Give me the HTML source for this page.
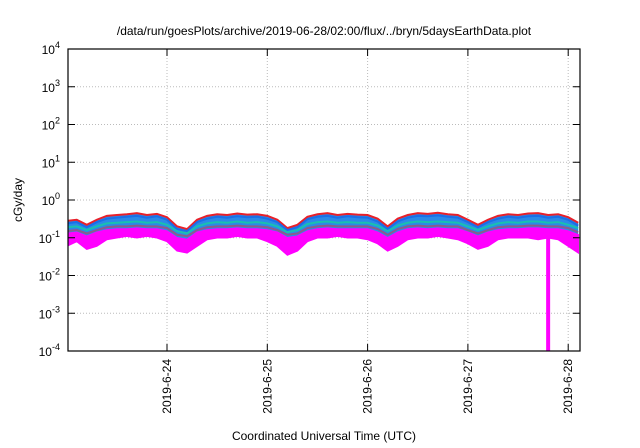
<!DOCTYPE html>
<html><head><meta charset="utf-8"><style>
body{margin:0;background:#fff;}
svg{display:block;font-family:"Liberation Sans",sans-serif;}
</style></head><body>
<svg id="c" width="640" height="448" xmlns="http://www.w3.org/2000/svg">
<text x="324" y="35" font-size="12" text-anchor="middle">/data/run/goesPlots/archive/2019-06-28/02:00/flux/../bryn/5daysEarthData.plot</text>
<text x="324" y="440" font-size="12" text-anchor="middle">Coordinated Universal Time (UTC)</text>
<text transform="translate(22,200) rotate(-90)" font-size="12" text-anchor="middle">cGy/day</text>
<g id="grid"></g><g id="series"></g><g id="axes"></g>
</svg>
<script>
const dayLabels=["2019-6-24","2019-6-25","2019-6-26","2019-6-27","2019-6-28"];
const dayTicks=[1,2,3,4,5];
const yExps=[-4,-3,-2,-1,0,1,2,3,4];
const times=[0,0.1,0.2,0.3,0.4,0.5,0.6,0.7,0.8,0.9,1,1.1,1.2,1.3,1.4,1.5,1.6,1.7,1.8,1.9,2,2.1,2.2,2.3,2.4,2.5,2.6,2.7,2.8,2.9,3,3.1,3.2,3.3,3.4,3.5,3.6,3.7,3.8,3.9,4,4.1,4.2,4.3,4.4,4.5,4.6,4.7,4.8,4.9,5,5.1];
const red=[0.28,0.3,0.22,0.3,0.38,0.4,0.42,0.45,0.4,0.43,0.35,0.2,0.17,0.3,0.38,0.42,0.4,0.44,0.41,0.42,0.38,0.3,0.18,0.22,0.36,0.42,0.45,0.4,0.43,0.41,0.4,0.32,0.2,0.32,0.4,0.45,0.43,0.46,0.42,0.4,0.3,0.22,0.3,0.38,0.42,0.4,0.44,0.45,0.4,0.42,0.35,0.25];
const blue=[0.24,0.26,0.19,0.26,0.32,0.34,0.36,0.38,0.34,0.37,0.3,0.17,0.15,0.26,0.32,0.36,0.34,0.37,0.35,0.36,0.32,0.26,0.16,0.19,0.31,0.36,0.38,0.34,0.37,0.35,0.34,0.27,0.17,0.27,0.34,0.38,0.37,0.39,0.36,0.34,0.26,0.19,0.26,0.32,0.36,0.34,0.37,0.38,0.34,0.36,0.3,0.21];
const teal=[0.19,0.2,0.16,0.2,0.24,0.25,0.26,0.27,0.25,0.26,0.22,0.15,0.13,0.2,0.24,0.26,0.25,0.27,0.25,0.26,0.24,0.2,0.14,0.16,0.23,0.26,0.27,0.25,0.26,0.25,0.25,0.21,0.15,0.21,0.25,0.27,0.26,0.27,0.26,0.25,0.2,0.16,0.2,0.24,0.26,0.25,0.27,0.27,0.25,0.26,0.22,0.18];
const gray=[0.15,0.16,0.13,0.16,0.19,0.2,0.2,0.21,0.2,0.2,0.18,0.12,0.11,0.16,0.19,0.2,0.2,0.21,0.2,0.2,0.19,0.16,0.12,0.13,0.18,0.2,0.21,0.2,0.2,0.2,0.2,0.17,0.12,0.17,0.2,0.21,0.2,0.21,0.2,0.2,0.16,0.13,0.16,0.19,0.2,0.2,0.21,0.21,0.2,0.2,0.18,0.14];
const magHigh=[0.13,0.14,0.11,0.14,0.16,0.17,0.17,0.18,0.17,0.17,0.15,0.1,0.09,0.14,0.16,0.17,0.17,0.18,0.17,0.17,0.16,0.14,0.1,0.11,0.15,0.17,0.18,0.17,0.17,0.17,0.17,0.14,0.1,0.14,0.17,0.18,0.17,0.18,0.17,0.17,0.14,0.11,0.14,0.16,0.17,0.17,0.18,0.18,0.17,0.17,0.15,0.12];
const magLow=[0.06,0.08,0.05,0.06,0.09,0.1,0.11,0.1,0.11,0.1,0.08,0.045,0.04,0.06,0.09,0.1,0.1,0.11,0.1,0.1,0.08,0.06,0.035,0.045,0.08,0.1,0.1,0.11,0.1,0.1,0.09,0.07,0.045,0.06,0.09,0.1,0.1,0.11,0.1,0.09,0.07,0.05,0.06,0.09,0.1,0.1,0.1,0.09,0.1,0.09,0.06,0.04];
const spikeTimes=[4.8];
const spikeValues=[0.0001];
const L=68,R=580,T=49,B=351;
const x=t=>66.7+t*100.3;
const y=v=>B-(Math.log10(v)+4)*(B-T)/8;
const NS="http://www.w3.org/2000/svg";
function mk(tag,parent,attrs){const e=document.createElementNS(NS,tag);for(const k in attrs)e.setAttribute(k,attrs[k]);parent.appendChild(e);return e;}
const grid=document.getElementById('grid'),axes=document.getElementById('axes'),ser=document.getElementById('series');
const clip=mk('clipPath',document.getElementById('c'),{id:'pc'});mk('rect',clip,{x:L,y:T,width:R-L,height:B-T});
yExps.forEach(e=>{const yy=y(Math.pow(10,e));
 if(e>-4&&e<4){const g=mk('line',grid,{x1:L,x2:R,y1:yy,y2:yy,stroke:'#bbb','stroke-dasharray':'1,2'});}
 const tk=mk('path',axes,{d:`M${L} ${yy}h7M${R} ${yy}h-7`,stroke:'#000'});
 const t=mk('text',axes,{x:L-8,y:yy+5,'font-size':'12','text-anchor':'end'});
 t.innerHTML=`10<tspan dy="-6" font-size="9">${e}</tspan>`;});
dayTicks.forEach((d,i)=>{const xx=x(d);
 const g=mk('line',grid,{x1:xx,x2:xx,y1:T,y2:B,stroke:'#bbb','stroke-dasharray':'1,2'});
 const tk=mk('path',axes,{d:`M${xx} ${B}v-7M${xx} ${T}v7`,stroke:'#000'});
 const t=mk('text',axes,{transform:`translate(${xx+4},${B+8}) rotate(-90)`,'font-size':'12','text-anchor':'end'});t.textContent=dayLabels[i];});
const sg=mk('g',ser,{'clip-path':'url(#pc)'});
let band=times.map((t,i)=>`${x(t)},${y(red[i])}`).concat(times.map((t,i)=>`${x(t)},${y(magHigh[i])}`).reverse());
const bd=mk('polygon',sg,{points:band.join(' '),fill:'#2a8ae8'});
const mb=times.map((t,i)=>`${x(t)},${y(magHigh[i])}`).concat(times.map((t,i)=>`${x(t)},${y(magLow[i])}`).reverse());
const mp=mk('polygon',sg,{points:mb.join(' '),fill:'#ff00ff',stroke:'#ff00ff','stroke-width':'1.5'});
spikeTimes.forEach((t,i)=>{const s=mk('line',sg,{x1:x(t),x2:x(t),y1:y(0.1),y2:y(spikeValues[i]),stroke:'#ff00ff','stroke-width':'4'});
 
 });
[[red,'#e8202a','series-red'],[blue,'#1a6fe8','series-blue'],[teal,'#19c0b0','series-teal'],[gray,'#8c5a8c','series-purple']].forEach(([arr,col,nm])=>{
 const p=mk('polyline',sg,{points:times.map((t,i)=>`${x(t)},${y(arr[i])}`).join(' '),fill:'none',stroke:col,'stroke-width':'2'});
 
 });
const fr=mk('rect',axes,{x:L,y:T,width:R-L,height:B-T,fill:'none',stroke:'#000','stroke-width':'1.2'});
</script>
</body></html>
